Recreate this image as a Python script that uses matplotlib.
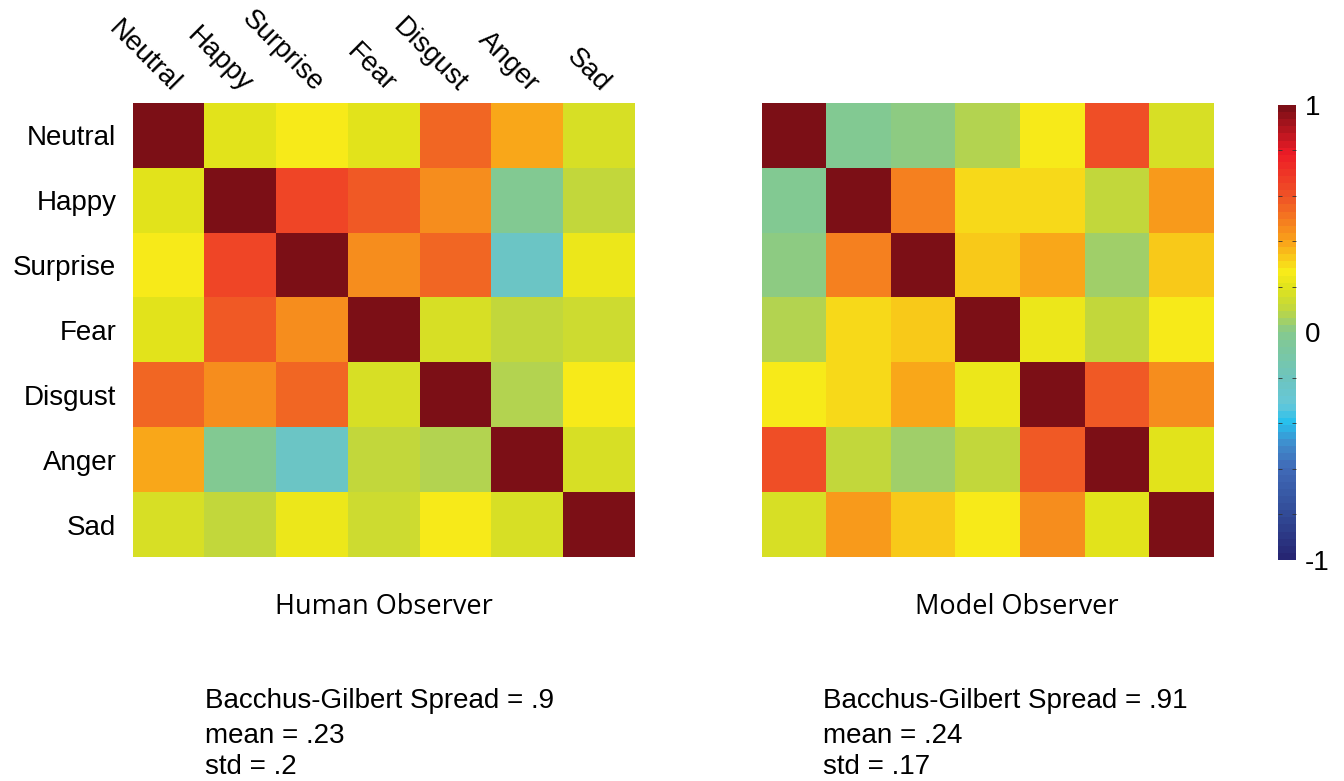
import numpy as np
import matplotlib
matplotlib.use("Agg")
import matplotlib.pyplot as plt
from matplotlib.colors import LinearSegmentedColormap

# Các nhãn cảm xúc
emotions = ["Neutral", "Happy", "Surprise", "Fear", "Disgust", "Anger", "Sad"]

# Ma trận tương quan - người quan sát
human = [
    [1.00, 0.20, 0.27, 0.19, 0.54, 0.38, 0.16],
    [0.20, 1.00, 0.65, 0.58, 0.44, -0.01, 0.12],
    [0.27, 0.65, 1.00, 0.44, 0.54, -0.25, 0.22],
    [0.19, 0.58, 0.44, 1.00, 0.16, 0.12, 0.15],
    [0.54, 0.44, 0.54, 0.16, 1.00, 0.08, 0.27],
    [0.38, -0.01, -0.25, 0.12, 0.08, 1.00, 0.16],
    [0.16, 0.12, 0.22, 0.15, 0.27, 0.16, 1.00],
]

# Ma trận tương quan - mô hình
model = [
    [1.00, -0.01, 0.02, 0.08, 0.27, 0.61, 0.16],
    [-0.01, 1.00, 0.48, 0.31, 0.31, 0.12, 0.42],
    [0.02, 0.48, 1.00, 0.34, 0.38, 0.05, 0.34],
    [0.08, 0.31, 0.34, 1.00, 0.22, 0.12, 0.25],
    [0.27, 0.31, 0.38, 0.22, 1.00, 0.58, 0.44],
    [0.61, 0.12, 0.05, 0.12, 0.58, 1.00, 0.20],
    [0.16, 0.42, 0.34, 0.25, 0.44, 0.20, 1.00],
]

titles = ["Human Observer", "Model Observer"]
stats_human = ["Bacchus-Gilbert Spread = .9", "mean = .23", "std = .2"]
stats_model = ["Bacchus-Gilbert Spread = .91", "mean = .24", "std = .17"]

# Bảng màu kiểu jet hơi nhạt (như bản in)
stops = [
    (0.00, (0.15, 0.15, 0.45)),
    (0.10, (0.20, 0.30, 0.60)),
    (0.20, (0.25, 0.42, 0.72)),
    (0.25, (0.25, 0.55, 0.80)),
    (0.30, (0.15, 0.75, 0.93)),
    (0.34, (0.40, 0.78, 0.85)),
    (0.40, (0.43, 0.77, 0.74)),
    (0.50, (0.52, 0.79, 0.56)),
    (0.55, (0.75, 0.84, 0.25)),
    (0.60, (0.88, 0.89, 0.11)),
    (0.635, (0.97, 0.92, 0.10)),
    (0.70, (0.98, 0.65, 0.10)),
    (0.80, (0.94, 0.33, 0.15)),
    (0.90, (0.93, 0.11, 0.15)),
    (1.00, (0.49, 0.06, 0.09)),
]
cmap = LinearSegmentedColormap.from_list("jet_print", stops, N=64)

fam = ["Liberation Sans", "DejaVu Sans"]
fam2 = ["Open Sans", "DejaVu Sans"]
fs = 20

fig = plt.figure(figsize=(13.44, 7.81), dpi=100)
ax1 = fig.add_axes([0.099, 0.2868, 0.3735, 0.5813])
ax2 = fig.add_axes([0.567, 0.2868, 0.3363, 0.5813])
cax = fig.add_axes([0.951, 0.283, 0.0134, 0.5826])

for i, (ax, data) in enumerate(zip([ax1, ax2], [human, model])):
    im = ax.imshow(np.array(data), cmap=cmap, vmin=-1, vmax=1, aspect="auto")
    ax.set_xticks([])
    ax.set_yticks([])
    for s in ax.spines.values():
        s.set_visible(False)
    if i == 0:
        ax.set_yticks(range(len(emotions)))
        ax.set_yticklabels(emotions, fontsize=fs, family=fam)
        ax.tick_params(axis="y", length=0, pad=12)
        for j, lab in enumerate(emotions):
            ax.annotate(lab, xy=(j, -0.5), xytext=(-2, 4), textcoords="offset points",
                        rotation=-45, rotation_mode="anchor", ha="right", va="bottom",
                        fontsize=fs, family=fam)

# Tiêu đề và thống kê
fig.text(0.2857, 0.223, titles[0], ha="center", va="center", fontsize=19.5, family=fam2)
fig.text(0.7567, 0.223, titles[1], ha="center", va="center", fontsize=19.5, family=fam2)
for k, yy in enumerate([0.103, 0.057, 0.018]):
    fig.text(0.1525, yy, stats_human[k], ha="left", va="center", fontsize=fs, family=fam)
    fig.text(0.612, yy, stats_model[k], ha="left", va="center", fontsize=fs, family=fam)

cb = fig.colorbar(im, cax=cax)
cb.outline.set_visible(False)
cb.set_ticks([-1, 0, 1])
cb.set_ticklabels(["-1", "0", "1"])
cb.ax.set_yticks(np.arange(-1, 1.01, 0.2), minor=True)
cb.ax.tick_params(which="major", length=0, labelsize=fs, pad=6)
cb.ax.tick_params(which="minor", direction="in", length=3, color="#333333", left=True, right=True)
for t in cb.ax.get_yticklabels():
    t.set_family(fam)

fig.savefig("out.png", dpi=100)
